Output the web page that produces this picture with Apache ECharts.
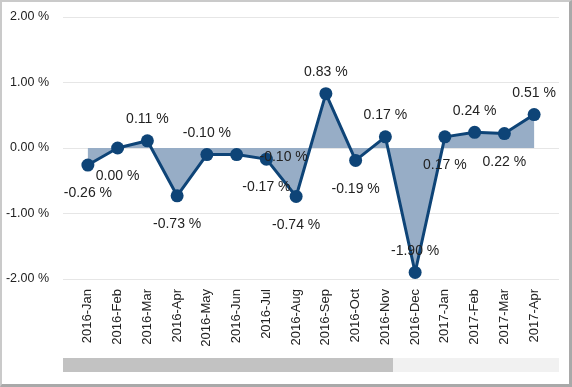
<!DOCTYPE html>
<html>
<head>
<meta charset="utf-8">
<script src="https://cdn.jsdelivr.net/npm/echarts@6/dist/echarts.min.js"></script>
<style>
html,body{margin:0;padding:0;background:#fff;}
#chart{position:absolute;left:0;top:0;width:572px;height:387px;}
#frame{position:absolute;left:0;top:0;width:572px;height:387px;box-sizing:border-box;
  border-left:2px solid #cacaca;border-top:2px solid #cacaca;border-right:3px solid #a9a9a9;border-bottom:3px solid #a9a9a9;pointer-events:none;}
</style>
</head>
<body>
<div id="chart"></div>
<div id="frame"></div>
<script>
const categories = ['2016-Jan','2016-Feb','2016-Mar','2016-Apr','2016-May','2016-Jun','2016-Jul','2016-Aug','2016-Sep','2016-Oct','2016-Nov','2016-Dec','2017-Jan','2017-Feb','2017-Mar','2017-Apr'];
const values = [-0.26, 0.00, 0.11, -0.73, -0.10, -0.10, -0.17, -0.74, 0.83, -0.19, 0.17, -1.90, 0.17, 0.24, 0.22, 0.51];
const yTicks = [-2, -1, 0, 1, 2];

// label placement per point (style, not data)
const labelPlace = ['bottom','bottom','top','bottom','top','side','bottom','bottom','top','bottom','top','top','bottom','top','bottom','top'];

const LINE = '#0e4477';
const seriesData = values.map((v, i) => {
  const p = labelPlace[i];
  let label;
  if (p === 'top') label = {position: 'top', distance: 8};
  else if (p === 'bottom') label = {position: 'bottom', distance: 15};
  else label = {position: 'inside', offset: [47, 3]};
  return {value: v, label: label};
});

const chart = echarts.init(document.getElementById('chart'), null, {renderer: 'canvas'});
const TOP = 17, BOTTOM = 108;
const FONT = 'Liberation Sans, Arial, sans-serif';
chart.setOption({
  animation: false,
  grid: [
    {left: 63, right: 13, top: TOP, bottom: BOTTOM},
    {left: 73, right: 23, top: TOP, bottom: BOTTOM}
  ],
  xAxis: [
    {type: 'category', gridIndex: 0, data: categories, show: false},
    {type: 'category', gridIndex: 1, data: categories, boundaryGap: true,
     axisLine: {show: false}, axisTick: {show: false},
     axisLabel: {rotate: 90, interval: 0, margin: 10, color: '#222', fontFamily: FONT, fontSize: 13}}
  ],
  yAxis: [
    {type: 'value', gridIndex: 0, min: yTicks[0], max: yTicks[yTicks.length-1], interval: 1,
     axisLine: {show: false}, axisTick: {show: false},
     axisLabel: {margin: 14, color: '#222', fontFamily: FONT, fontSize: 12.5,
       formatter: v => v.toFixed(2) + ' %'},
     splitLine: {lineStyle: {color: '#e6e6e6', width: 1}}},
    {type: 'value', gridIndex: 1, min: yTicks[0], max: yTicks[yTicks.length-1], interval: 1, show: false,
     splitLine: {show: false}}
  ],
  series: [{
    type: 'line',
    xAxisIndex: 1, yAxisIndex: 1,
    data: seriesData,
    symbol: 'circle', symbolSize: 13,
    itemStyle: {color: LINE},
    lineStyle: {color: LINE, width: 3},
    areaStyle: {color: '#97adc6', opacity: 1, origin: 0},
    label: {show: true, color: '#222', fontFamily: FONT, fontSize: 14,
      formatter: p => p.value.toFixed(2) + ' %'}
  }],
  graphic: [
    {type: 'rect', shape: {x: 63, y: 358, width: 496, height: 14}, style: {fill: '#f1f1f1'}, silent: true},
    {type: 'rect', shape: {x: 63, y: 358, width: 330, height: 14}, style: {fill: '#c2c2c2'}, silent: true}
  ]
});
</script>
</body>
</html>
